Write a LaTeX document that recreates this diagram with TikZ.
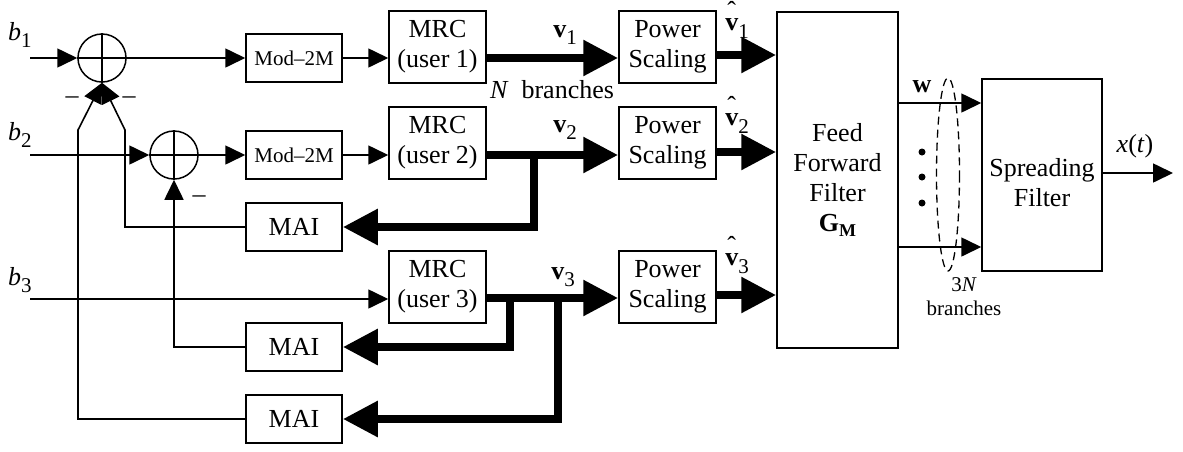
\documentclass[tikz,border=0pt]{standalone}
\usepackage{fontspec}
\setmainfont{Liberation Serif}
\usetikzlibrary{arrows.meta}
\newcommand\sbs[1]{\raisebox{-0.28em}{\fontsize{21}{21}\selectfont #1}}
\newcommand\vhat[1]{\textbf{v}\llap{\makebox[0.5em]{\raisebox{0.42em}{ˆ}}}\sbs{#1}}
\begin{document}
\begin{tikzpicture}[x=1pt,y=-1pt,line join=miter,
  blk/.style={draw,line width=1.5pt,inner sep=0pt,align=center,font=\fontsize{26}{30}\selectfont},
  modbox/.style={blk,minimum width=96pt,minimum height=48pt,font=\fontsize{21}{24}\selectfont},
  maibox/.style={blk,minimum width=96pt,minimum height=48pt},
  tallbox/.style={blk,minimum width=97pt,minimum height=72pt},
  sumnode/.style={circle,draw,line width=1.5pt,minimum size=48pt,inner sep=0pt},
  sig/.style={line width=1.6pt,-{Triangle[length=20pt,width=19pt]}},
  bus/.style={line width=8.5pt,-{Triangle[length=35pt,width=34pt]}},
  lbl/.style={inner sep=0pt,font=\fontsize{26}{30}\selectfont},
  smalllbl/.style={inner sep=0pt,font=\fontsize{21}{24}\selectfont},
  dotnode/.style={circle,fill,inner sep=0pt,minimum size=7pt}]
\useasboundingbox (0,0) rectangle (1183,451);

% row reference coordinates
\coordinate (r1) at (0,58);
\coordinate (r2) at (0,155);
\coordinate (r3) at (0,298);
\coordinate (p1) at (0,55);
\coordinate (p2) at (0,152);
\coordinate (p3) at (0,295);
\coordinate (o1) at (0,103);
\coordinate (o2) at (0,247);
\coordinate (o3) at (0,173);

% blocks
\node[sumnode] (c1) at (102,58) {};
\node[sumnode] (c2) at (174,155) {};
\draw[line width=1.5pt] (c1.north)--(c1.south) (c1.west)--(c1.east);
\draw[line width=1.5pt] (c2.north)--(c2.south) (c2.west)--(c2.east);

\node[modbox] (mod1) at (294,58) {Mod–2M};
\node[modbox] (mod2) at (294,155) {Mod–2M};
\node[tallbox] (mrc1) at (437.5,47) {MRC\\(user 1)};
\node[tallbox] (mrc2) at (437.5,143) {MRC\\(user 2)};
\node[tallbox] (mrc3) at (437.5,287) {MRC\\(user 3)};
\node[tallbox] (ps1) at (667.5,47) {\raisebox{-3pt}{Power}\\\raisebox{-3pt}{Scaling}};
\node[tallbox] (ps2) at (667.5,143) {\raisebox{-3pt}{Power}\\\raisebox{-3pt}{Scaling}};
\node[tallbox] (ps3) at (667.5,287) {\raisebox{-3pt}{Power}\\\raisebox{-3pt}{Scaling}};
\node[maibox] (mai1) at (294,227) {MAI};
\node[maibox] (mai2) at (294,347) {MAI};
\node[maibox] (mai3) at (294,419) {MAI};
\node[blk,minimum width=121pt,minimum height=336pt] (fff) at (837.5,180)
  {Feed\\Forward\\Filter\\\textbf{G}{\raisebox{-0.2em}{\fontsize{18}{18}\selectfont\bfseries M}}};
\node[blk,minimum width=120pt,minimum height=192pt] (sf) at (1042,175) {};
\node[lbl,align=center] (sftext) at ([yshift=-8pt]sf.center) {Spreading\\Filter};

% inputs
\coordinate (b1s) at (30,58);
\coordinate (b2s) at (30,155);
\coordinate (b3s) at (30,299);
\draw[sig] (b1s) -- (c1.west);
\draw[sig] (b2s) -- (c2.west);
\draw[sig] (b3s) -- (mrc3.west |- b3s);

% row 1
\draw[sig] (c1.east) -- (mod1.west);
\draw[sig] (mod1.east) -- (mrc1.west |- mod1.east);
\draw[bus] (mrc1.east |- r1) -- (ps1.west |- r1);
\draw[bus] (ps1.east |- p1) -- (fff.west |- p1);

% row 2
\draw[sig] (c2.east) -- (mod2.west);
\draw[sig] (mod2.east) -- (mrc2.west |- mod2.east);
\draw[bus] (mrc2.east |- r2) -- (ps2.west |- r2);
\draw[bus] (ps2.east |- p2) -- (fff.west |- p2);
\coordinate (j2) at (534,155);
\draw[bus] (j2) |- (mai1.east);

% row 3
\draw[bus] (mrc3.east |- r3) -- (ps3.west |- r3);
\draw[bus] (ps3.east |- p3) -- (fff.west |- p3);
\coordinate (j3a) at (510,298);
\coordinate (j3b) at (558,298);
\draw[bus] (j3a) |- (mai2.east);
\draw[bus] (j3b) |- (mai3.east);

% feedback
\coordinate (k1) at (125,130);
\coordinate (k3) at (78,130);
\draw[sig] (mai1.west) -| (k1) -- (c1.south);
\draw[sig] (mai3.west) -| (k3) -- (c1.south);
\draw[sig] (mai2.west) -| (c2.south);

% outputs
\draw[sig] (fff.east |- o1) -- (sf.west |- o1);
\draw[sig] (fff.east |- o2) -- (sf.west |- o2);
\coordinate (xo) at (1173,173);
\draw[sig] (sf.east |- o3) -- (xo);

% dots and ellipse
\node[dotnode] (d1) at (922,152) {};
\node[dotnode] (d2) at (922,177) {};
\node[dotnode] (d3) at (922,203) {};
\draw[dashed,line width=1.3pt,dash pattern=on 8pt off 5pt] (948,174.5) ellipse [x radius=11.5, y radius=96.5];

% labels
\node[lbl] (lb1) at (20,35) {\textit{b}\sbs{1}};
\node[lbl] (lb2) at (20,135) {\textit{b}\sbs{2}};
\node[lbl] (lb3) at (20,280) {\textit{b}\sbs{3}};
\node[lbl] (m1) at (72,100) {–};
\node[lbl] (m2) at (129,100) {–};
\node[lbl] (m3) at (199,199) {–};
\node[lbl] (lv1) at (565,35) {\textbf{v}\sbs{1}};
\node[lbl] (lv2) at (565,130) {\textbf{v}\sbs{2}};
\node[lbl] (lv3) at (563,277) {\textbf{v}\sbs{3}};
\node[lbl] (lh1) at (737,20) {\vhat{1}};
\node[lbl] (lh2) at (737,115) {\vhat{2}};
\node[lbl] (lh3) at (737,255) {\vhat{3}};
\node[lbl] (nb) at (552,90) {\textit{N}\ \ branches};
\node[lbl] (lw) at (922,87) {\textbf{w}};
\node[lbl] (lx) at (1135,146) {\textit{x}(\textit{t})};
\node[smalllbl,align=center] (tb) at (964,297) {3\textit{N}\\branches};
\end{tikzpicture}
\end{document}
